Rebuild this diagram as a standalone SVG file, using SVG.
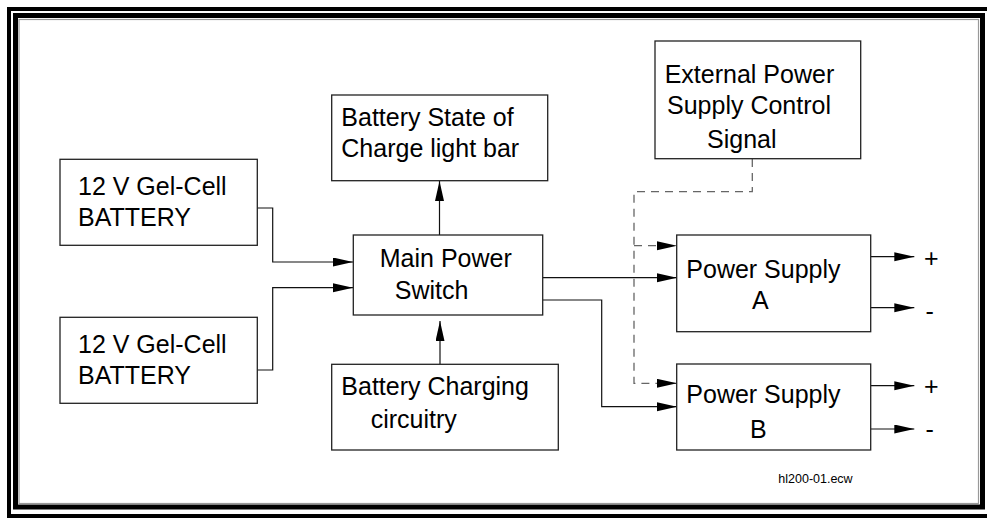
<svg xmlns="http://www.w3.org/2000/svg" width="987" height="518" viewBox="0 0 987 518">
<style>
  .box { fill: #fff; stroke: #222; stroke-width: 1.3; }
  .t { font-family: "Liberation Sans", Arial, sans-serif; font-size: 25px; fill: #000; }
  .small { font-family: "Liberation Sans", Arial, sans-serif; font-size: 12.5px; fill: #000; }
  .wire { fill: none; stroke: #111; stroke-width: 1.2; }
  .dash { fill: none; stroke: #666; stroke-width: 1.3; stroke-dasharray: 8 6; }
</style>
<defs>
  <marker id="arr" markerUnits="userSpaceOnUse" markerWidth="21" markerHeight="10" refX="20" refY="4.5" orient="auto" viewBox="0 0 21 10">
    <path d="M0,0 L20,4.5 L0,9 z" fill="#000"/>
  </marker>
</defs>
<rect width="987" height="518" fill="#fff"/>
<g id="frame" fill="none">
  <rect x="9" y="9" width="982" height="507" stroke="#000" stroke-width="4"/>
  <rect x="15.5" y="15.5" width="967" height="491.5" stroke="#000" stroke-width="5"/>
  <rect x="19" y="19.5" width="959.5" height="484" stroke="#999" stroke-width="1.2"/>
</g>
<g id="connectors">
  <polyline class="wire" points="257,208 272.7,208 272.7,262 353,262" marker-end="url(#arr)"/>
  <polyline class="wire" points="257,370 272.7,370 272.7,287.7 353,287.7" marker-end="url(#arr)"/>
  <line class="wire" x1="439.5" y1="235" x2="439.5" y2="181" marker-end="url(#arr)"/>
  <line class="wire" x1="440" y1="364" x2="440" y2="321" marker-end="url(#arr)"/>
  <line class="wire" x1="543" y1="277.7" x2="677" y2="277.7" marker-end="url(#arr)"/>
  <polyline class="wire" points="543,300 601.7,300 601.7,406.7 677,406.7" marker-end="url(#arr)"/>
  <polyline class="dash" points="752.3,159 752.3,191.7 634,191.7 634,383.3 677,383.3" marker-end="url(#arr)"/>
  <line class="dash" x1="634" y1="245.7" x2="677" y2="245.7" marker-end="url(#arr)"/>
  <line class="wire" x1="870.7" y1="256.7" x2="914.3" y2="256.7" marker-end="url(#arr)"/>
  <line class="wire" x1="870.7" y1="307.7" x2="914.3" y2="307.7" marker-end="url(#arr)"/>
  <line class="wire" x1="870.7" y1="385.7" x2="914.3" y2="385.7" marker-end="url(#arr)"/>
  <line class="wire" x1="870.7" y1="429" x2="914.3" y2="429" marker-end="url(#arr)"/>
</g>
<g id="battery1">
  <rect class="box" x="60" y="159.3" width="197.3" height="86"/>
  <text class="t" x="78" y="195">12 V Gel-Cell</text>
  <text class="t" x="78" y="226">BATTERY</text>
</g>
<g id="battery2">
  <rect class="box" x="60" y="317.3" width="197.3" height="86"/>
  <text class="t" x="78" y="352.7">12 V Gel-Cell</text>
  <text class="t" x="78" y="383.5">BATTERY</text>
</g>
<g id="soc-lightbar">
  <rect class="box" x="331.7" y="95" width="216" height="85.7"/>
  <text class="t" x="341.3" y="126">Battery State of</text>
  <text class="t" x="341.3" y="157">Charge light bar</text>
</g>
<g id="main-switch">
  <rect class="box" x="353.3" y="235" width="189.4" height="80"/>
  <text class="t" x="379.8" y="266.7">Main Power</text>
  <text class="t" x="394.8" y="299">Switch</text>
</g>
<g id="charging">
  <rect class="box" x="331.7" y="364.3" width="226.6" height="85.7"/>
  <text class="t" x="341.3" y="395">Battery Charging</text>
  <text class="t" x="370.7" y="427.7">circuitry</text>
</g>
<g id="ext-control">
  <rect class="box" x="655" y="41" width="205.7" height="117.7"/>
  <text class="t" x="664.7" y="82.7">External Power</text>
  <text class="t" x="667" y="113.5">Supply Control</text>
  <text class="t" x="707" y="148">Signal</text>
</g>
<g id="psu-a">
  <rect class="box" x="676.7" y="235" width="194" height="96.7"/>
  <text class="t" x="686.3" y="277.5">Power Supply</text>
  <text class="t" x="752" y="309.3">A</text>
  <text class="t" x="924" y="267">+</text>
  <text class="t" x="925.5" y="320">-</text>
</g>
<g id="psu-b">
  <rect class="box" x="676.7" y="364" width="194" height="86"/>
  <text class="t" x="686.3" y="403.3">Power Supply</text>
  <text class="t" x="750" y="438.3">B</text>
  <text class="t" x="924" y="394.5">+</text>
  <text class="t" x="925.5" y="438">-</text>
</g>
<text class="small" x="778.3" y="483.3">hl200-01.ecw</text>
</svg>
